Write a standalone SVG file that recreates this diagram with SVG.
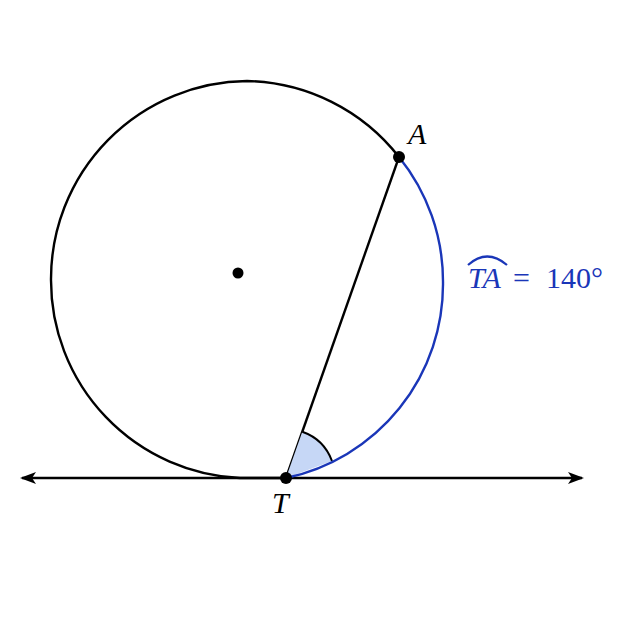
<svg xmlns="http://www.w3.org/2000/svg" width="627" height="627" viewBox="0 0 627 627">
<defs>
<style>
.blk{fill:none;stroke:#000;stroke-width:2.4}
.blu{fill:none;stroke:#1a36b8;stroke-width:2.4}
.lbl{font-family:"Liberation Serif","DejaVu Serif",serif;font-size:30px}
.it{font-style:italic}
</style>
<marker id="ah" viewBox="0 0 16 12" refX="14" refY="6" markerWidth="16" markerHeight="12" markerUnits="userSpaceOnUse" orient="auto-start-reverse">
<path d="M0,0 L16,6 L0,12 L4,6 Z" fill="#000"/>
</marker>
</defs>
<rect width="627" height="627" fill="#fff"/>
<g id="connectors">
<line x1="22" y1="478" x2="582" y2="478" class="blk" marker-start="url(#ah)" marker-end="url(#ah)"/>
<line x1="286" y1="478" x2="399" y2="157" class="blk" stroke-width="2"/>
</g>
<g id="angle">
<path d="M286 478 L302.3 431.8 A49 49 0 0 1 332 461 Z" fill="#c6d7f6" stroke="none"/>
<path d="M302.3 431.8 A49 49 0 0 1 332 461" fill="none" stroke="#000" stroke-width="2"/>
</g>
<g id="circle">
<path d="M399 157 A198 198 0 0 0 247 81 A198 198 0 0 0 51 280 A198 198 0 0 0 240 478 L286 478" class="blk"/>
<path d="M399 157 A198 198 0 0 1 443 282 A198 198 0 0 1 286 478" class="blu"/>
</g>
<g id="center"><circle cx="238" cy="273" r="5.5" fill="#000"/></g>
<g id="pointA">
<circle cx="399" cy="157" r="6" fill="#000"/>
<text x="408" y="144" class="lbl it">A</text>
</g>
<g id="pointT">
<circle cx="286" cy="478" r="6" fill="#000"/>
<text x="272" y="513" class="lbl it">T</text>
</g>
<g id="arclabel" fill="#1a36b8">
<path d="M468 265 Q487 248 507 265" fill="none" stroke="#1a36b8" stroke-width="2.2"/>
<text x="468" y="288" class="lbl it">TA</text>
<text x="513" y="288" class="lbl">=</text>
<text x="546" y="288" class="lbl">140°</text>
</g>
</svg>
